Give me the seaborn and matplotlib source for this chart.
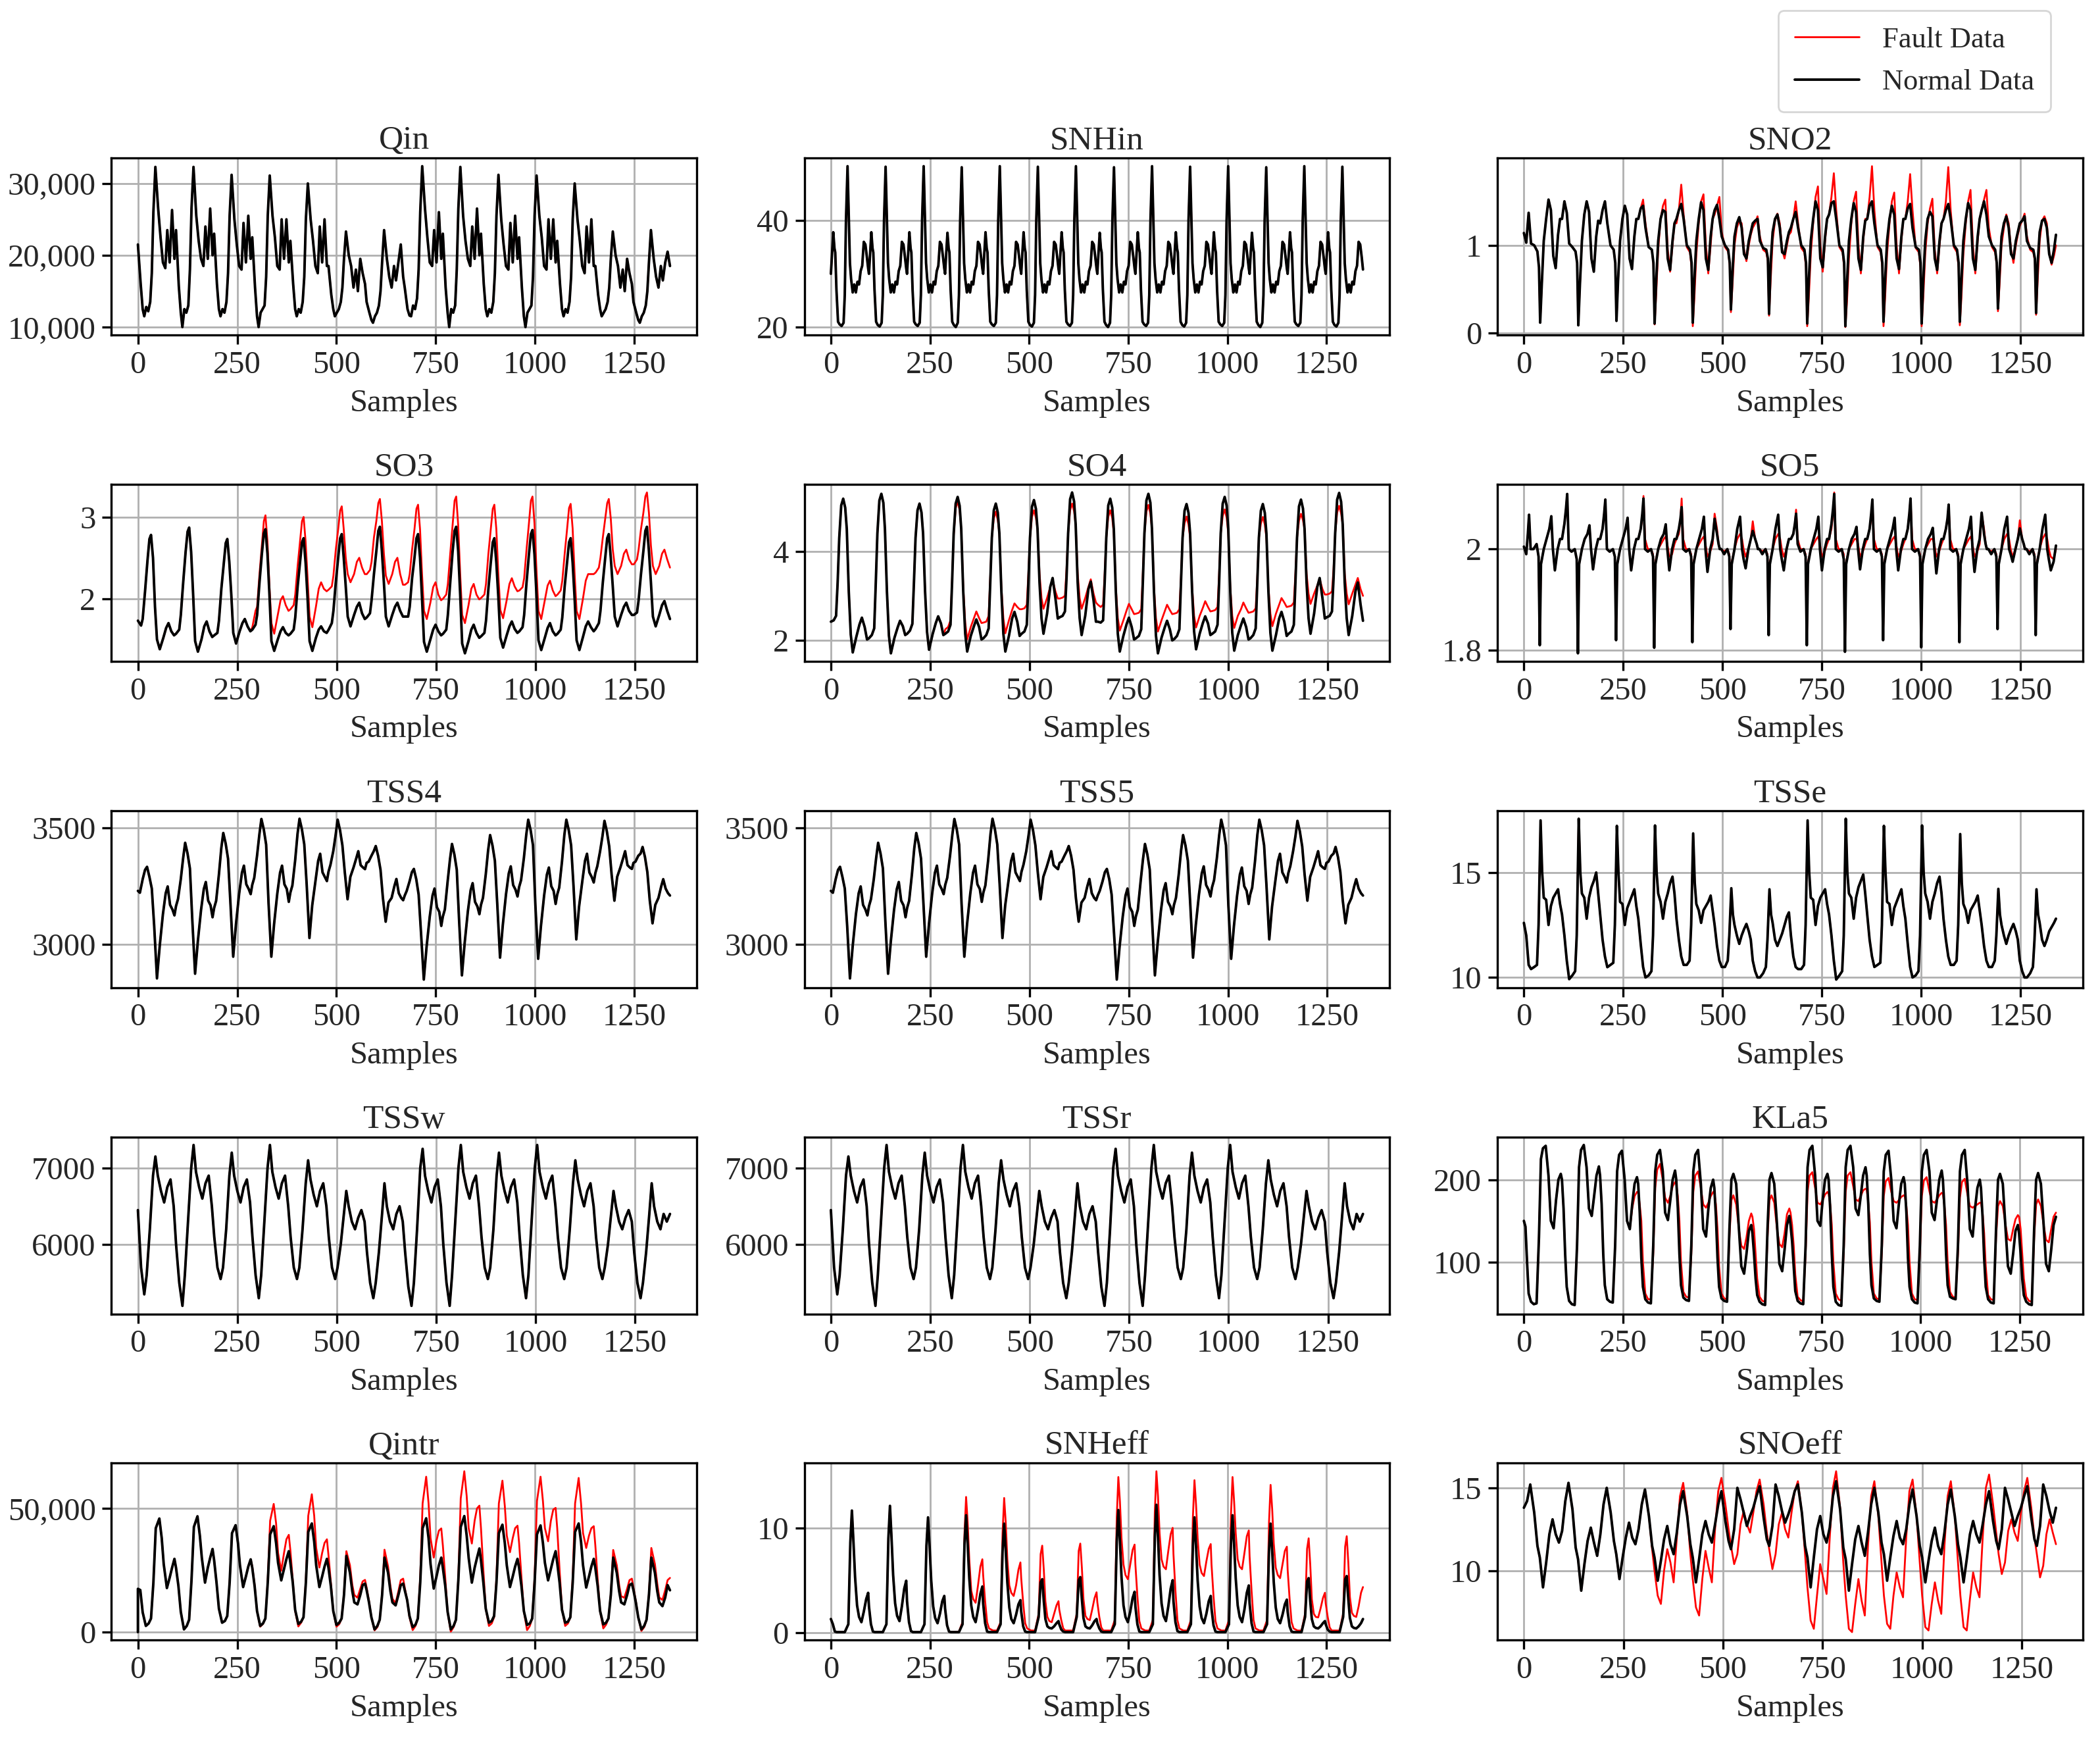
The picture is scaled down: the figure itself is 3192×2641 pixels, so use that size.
import seaborn as sns
import matplotlib.pyplot as plt
from matplotlib.lines import Line2D
from matplotlib.ticker import FuncFormatter

DAY = 96  # 15-min samples per day, 14 days shown

# ---------------- data (values read per day at the listed sample offsets) ----------------
qin_ph = [0, 7, 12, 16, 21, 26, 31, 35, 39, 44, 51, 57, 63, 69, 74, 80, 86, 92]
qin_n = [
    [21500, 16000, 12500, 11500, 12800, 12200, 13500, 17500, 26000, 32300, 26500, 22500, 19000, 18200, 23500, 19000, 26300, 19500],
    [23500, 15700, 12000, 10000, 12500, 12000, 13000, 18000, 26500, 32300, 25500, 22000, 19500, 18500, 24000, 19500, 26500, 20000],
    [23000, 16000, 12500, 11500, 12500, 12000, 13500, 17500, 25500, 31200, 25000, 21500, 18500, 18000, 24500, 19000, 25500, 19500],
    [22500, 15500, 11500, 10000, 12000, 12500, 13000, 17000, 25500, 31100, 25500, 22500, 18500, 18000, 25000, 19500, 25000, 19000],
    [22000, 16000, 12500, 11500, 12500, 12000, 13500, 17000, 25000, 30000, 25000, 22000, 18500, 17500, 24000, 19000, 25000, 18500],
    [18500, 14500, 12500, 11500, 12000, 12500, 13500, 15500, 19500, 23300, 20000, 18500, 15500, 18000, 15000, 19500, 17500, 16000],
    [13500, 12000, 11000, 10600, 11500, 12000, 13000, 15000, 19000, 23500, 19500, 17000, 15500, 18500, 16500, 19000, 21500, 17000],
    [15500, 12500, 11600, 11500, 13000, 12500, 14000, 18000, 26000, 32400, 26500, 22500, 19000, 18500, 23500, 19000, 26000, 19500],
    [23000, 15500, 12000, 10000, 12500, 12000, 13000, 18000, 26500, 32300, 25500, 22000, 19500, 18500, 24000, 19500, 26500, 20000],
    [23000, 16000, 12500, 11500, 12500, 12000, 13500, 17500, 25500, 31200, 25000, 21500, 18500, 18000, 24500, 19000, 25500, 19500],
    [22500, 15500, 11500, 10000, 12000, 12500, 13000, 17000, 25500, 31100, 25500, 22500, 18500, 18000, 25000, 19500, 25000, 19000],
    [22000, 16000, 12500, 11500, 12500, 12000, 13500, 17000, 25000, 30000, 25000, 22000, 18500, 17500, 24000, 19000, 25000, 18500],
    [18500, 14500, 12500, 11500, 12000, 12500, 13500, 15500, 19500, 23300, 20000, 18500, 15500, 18000, 15000, 19500, 17500, 16000],
    [13500, 12000, 11000, 10600, 11500, 12000, 13000, 15000, 19000, 23500, 19500, 17000, 15500, 18500, 16500, 19000, 20500, 18500],
]

snhin_ph = [0, 3, 6, 9, 11, 14, 18, 22, 27, 32, 35, 38, 42, 45, 48, 51, 55, 59, 63, 67, 71, 75, 79, 83, 87, 91, 94]
snhin_n = [
    [30, 34, 37.8, 34.8, 34, 27, 21, 20.5, 20.2, 20.8, 26, 40, 50.2, 41, 32, 29, 26.5, 28, 26.5, 28.5, 28, 30.5, 31.5, 36, 35.5, 33, 31],
    [30, 34, 37.8, 34.8, 34, 27, 21, 20.4, 20.1, 20.8, 26, 40, 50.1, 41, 32, 29, 26.5, 28, 26.5, 28.5, 28, 30.5, 31.5, 36, 35.5, 33, 31],
    [30, 34, 37.8, 34.8, 34, 27, 21, 20.5, 20.2, 20.8, 26, 40, 50.2, 41, 32, 29, 26.5, 28, 26.5, 28.5, 28, 30.5, 31.5, 36, 35.5, 33, 31],
    [30, 34, 37.7, 34.8, 34, 27, 21, 20.4, 20.0, 20.8, 26, 40, 50.0, 41, 32, 29, 26.5, 28, 26.5, 28.5, 28, 30.5, 31.5, 36, 35.5, 33, 31],
    [30, 34, 37.8, 34.8, 34, 27, 21, 20.5, 20.2, 20.8, 26, 40, 50.2, 41, 32, 29, 26.5, 28, 26.5, 28.5, 28, 30.5, 31.5, 36, 35.5, 33, 31],
    [30, 34, 37.8, 34.8, 34, 27, 21, 20.4, 20.1, 20.8, 26, 40, 50.1, 41, 32, 29, 26.5, 28, 26.5, 28.5, 28, 30.5, 31.5, 36, 35.5, 33, 31],
    [30, 34, 37.8, 34.8, 34, 27, 21, 20.5, 20.2, 20.8, 26, 40, 50.2, 41, 32, 29, 26.5, 28, 26.5, 28.5, 28, 30.5, 31.5, 36, 35.5, 33, 31],
    [30, 34, 37.7, 34.8, 34, 27, 21, 20.4, 20.0, 20.8, 26, 40, 50.0, 41, 32, 29, 26.5, 28, 26.5, 28.5, 28, 30.5, 31.5, 36, 35.5, 33, 31],
    [30, 34, 37.8, 34.8, 34, 27, 21, 20.5, 20.2, 20.8, 26, 40, 50.2, 41, 32, 29, 26.5, 28, 26.5, 28.5, 28, 30.5, 31.5, 36, 35.5, 33, 31],
    [30, 34, 37.8, 34.8, 34, 27, 21, 20.4, 20.1, 20.8, 26, 40, 50.1, 41, 32, 29, 26.5, 28, 26.5, 28.5, 28, 30.5, 31.5, 36, 35.5, 33, 31],
    [30, 34, 37.8, 34.8, 34, 27, 21, 20.5, 20.2, 20.8, 26, 40, 50.2, 41, 32, 29, 26.5, 28, 26.5, 28.5, 28, 30.5, 31.5, 36, 35.5, 33, 31],
    [30, 34, 37.7, 34.8, 34, 27, 21, 20.4, 20.0, 20.8, 26, 40, 50.0, 41, 32, 29, 26.5, 28, 26.5, 28.5, 28, 30.5, 31.5, 36, 35.5, 33, 31],
    [30, 34, 37.8, 34.8, 34, 27, 21, 20.5, 20.2, 20.8, 26, 40, 50.2, 41, 32, 29, 26.5, 28, 26.5, 28.5, 28, 30.5, 31.5, 36, 35.5, 33, 31],
    [30, 34, 37.8, 34.8, 34, 27, 21, 20.4, 20.1, 20.8, 26, 40, 50.1, 41, 32, 29, 26.5, 28, 26.5, 28.5, 28, 30.5, 31.5, 36, 35.5, 33, 30.8],
]

sno2_ph = [0, 6, 12, 18, 26, 34, 38, 41, 45, 50, 56, 62, 68, 74, 80, 86, 91]
sno2_n = [
    [1.14, 1.03, 1.37, 1.02, 1.00, 0.93, 0.75, 0.12, 0.55, 1.05, 1.30, 1.52, 1.40, 0.88, 0.74, 1.12, 1.30],
    [1.30, 1.50, 1.37, 1.02, 0.98, 0.93, 0.80, 0.09, 0.55, 1.05, 1.35, 1.50, 1.38, 0.85, 0.70, 1.10, 1.28],
    [1.25, 1.40, 1.50, 1.25, 1.00, 0.95, 0.80, 0.14, 0.60, 1.05, 1.30, 1.45, 1.35, 0.85, 0.73, 1.10, 1.30],
    [1.30, 1.42, 1.45, 1.20, 0.98, 0.95, 0.80, 0.11, 0.60, 1.05, 1.30, 1.40, 1.38, 0.85, 0.72, 1.05, 1.25],
    [1.30, 1.40, 1.47, 1.30, 1.00, 0.95, 0.80, 0.12, 0.60, 1.05, 1.30, 1.49, 1.40, 0.85, 0.72, 1.10, 1.30],
    [1.40, 1.46, 1.30, 1.10, 1.00, 0.95, 0.80, 0.27, 0.70, 1.10, 1.25, 1.32, 1.20, 0.90, 0.85, 1.05, 1.15],
    [1.25, 1.28, 1.30, 1.05, 0.97, 0.95, 0.85, 0.22, 0.80, 1.15, 1.30, 1.35, 1.20, 0.92, 0.90, 1.05, 1.15],
    [1.20, 1.30, 1.38, 1.20, 1.00, 0.95, 0.80, 0.11, 0.60, 1.05, 1.30, 1.50, 1.40, 0.85, 0.75, 1.10, 1.30],
    [1.35, 1.48, 1.50, 1.30, 1.00, 0.95, 0.80, 0.08, 0.55, 1.05, 1.30, 1.48, 1.38, 0.85, 0.72, 1.10, 1.28],
    [1.30, 1.45, 1.50, 1.25, 1.00, 0.95, 0.80, 0.13, 0.60, 1.05, 1.30, 1.45, 1.35, 0.85, 0.73, 1.10, 1.30],
    [1.30, 1.42, 1.47, 1.20, 0.98, 0.95, 0.80, 0.11, 0.60, 1.05, 1.30, 1.38, 1.33, 0.85, 0.72, 1.05, 1.25],
    [1.30, 1.40, 1.47, 1.30, 1.00, 0.95, 0.80, 0.13, 0.60, 1.05, 1.30, 1.48, 1.40, 0.85, 0.72, 1.10, 1.30],
    [1.40, 1.50, 1.35, 1.10, 1.00, 0.95, 0.80, 0.28, 0.70, 1.10, 1.25, 1.33, 1.20, 0.90, 0.85, 1.05, 1.15],
    [1.25, 1.28, 1.33, 1.05, 0.97, 0.95, 0.85, 0.23, 0.80, 1.15, 1.28, 1.30, 1.20, 0.90, 0.80, 0.95, 1.12],
]
sno2_f = sno2_n[:3] + [
    [1.30, 1.42, 1.52, 1.25, 0.98, 0.95, 0.78, 0.10, 0.45, 0.95, 1.30, 1.45, 1.52, 0.95, 0.70, 1.00, 1.25],
    [1.25, 1.40, 1.69, 1.35, 0.98, 0.92, 0.75, 0.08, 0.40, 0.90, 1.25, 1.50, 1.58, 1.00, 0.68, 1.00, 1.30],
    [1.35, 1.45, 1.55, 1.15, 0.98, 0.93, 0.78, 0.24, 0.55, 1.00, 1.20, 1.28, 1.25, 0.95, 0.82, 1.00, 1.12],
    [1.20, 1.25, 1.33, 1.10, 0.95, 0.92, 0.82, 0.20, 0.60, 1.05, 1.28, 1.36, 1.25, 0.95, 0.85, 1.00, 1.12],
    [1.15, 1.30, 1.50, 1.25, 0.97, 0.92, 0.75, 0.08, 0.40, 0.90, 1.25, 1.55, 1.67, 1.00, 0.70, 1.05, 1.30],
    [1.35, 1.55, 1.82, 1.40, 0.98, 0.92, 0.75, 0.07, 0.35, 0.85, 1.25, 1.50, 1.61, 1.00, 0.68, 1.05, 1.30],
    [1.30, 1.55, 1.90, 1.40, 0.98, 0.92, 0.75, 0.08, 0.40, 0.90, 1.25, 1.50, 1.60, 1.00, 0.68, 1.05, 1.30],
    [1.30, 1.50, 1.81, 1.40, 0.97, 0.92, 0.75, 0.08, 0.40, 0.90, 1.25, 1.42, 1.53, 0.95, 0.68, 1.00, 1.25],
    [1.30, 1.50, 1.89, 1.40, 0.98, 0.92, 0.75, 0.09, 0.40, 0.90, 1.25, 1.50, 1.63, 1.00, 0.68, 1.05, 1.30],
    [1.40, 1.52, 1.63, 1.20, 0.98, 0.92, 0.78, 0.25, 0.55, 1.00, 1.20, 1.35, 1.25, 0.95, 0.80, 1.00, 1.12],
    [1.22, 1.28, 1.36, 1.10, 0.95, 0.92, 0.82, 0.21, 0.60, 1.05, 1.28, 1.33, 1.25, 0.92, 0.78, 0.88, 1.00],
]

so3_ph = [0, 8, 12, 18, 24, 29, 33, 38, 43, 48, 55, 64, 71, 77, 84, 91]
so3_n = [
    [1.73, 1.67, 1.75, 2.09, 2.46, 2.73, 2.78, 2.50, 1.90, 1.50, 1.38, 1.52, 1.64, 1.70, 1.60, 1.55],
    [1.57, 1.62, 1.80, 2.20, 2.57, 2.82, 2.87, 2.57, 2.05, 1.48, 1.35, 1.50, 1.66, 1.72, 1.60, 1.53],
    [1.55, 1.58, 1.73, 2.12, 2.43, 2.68, 2.73, 2.45, 2.05, 1.58, 1.45, 1.60, 1.70, 1.75, 1.66, 1.60],
    [1.62, 1.68, 1.80, 2.20, 2.55, 2.80, 2.85, 2.55, 2.05, 1.48, 1.36, 1.50, 1.60, 1.65, 1.58, 1.55],
    [1.57, 1.62, 1.77, 2.15, 2.44, 2.69, 2.74, 2.44, 2.00, 1.48, 1.36, 1.52, 1.62, 1.66, 1.60, 1.58],
    [1.62, 1.70, 1.85, 2.20, 2.50, 2.74, 2.79, 2.50, 2.15, 1.78, 1.66, 1.80, 1.90, 1.95, 1.82, 1.75],
    [1.77, 1.82, 1.98, 2.30, 2.58, 2.83, 2.88, 2.58, 2.20, 1.78, 1.66, 1.80, 1.90, 1.95, 1.85, 1.78],
    [1.78, 1.78, 1.90, 2.25, 2.50, 2.74, 2.79, 2.50, 2.00, 1.47, 1.35, 1.50, 1.62, 1.68, 1.60, 1.55],
    [1.57, 1.62, 1.80, 2.20, 2.58, 2.83, 2.88, 2.58, 2.05, 1.45, 1.33, 1.48, 1.62, 1.68, 1.58, 1.52],
    [1.54, 1.58, 1.73, 2.12, 2.44, 2.69, 2.74, 2.44, 2.02, 1.52, 1.40, 1.55, 1.66, 1.72, 1.63, 1.58],
    [1.60, 1.65, 1.80, 2.20, 2.54, 2.79, 2.84, 2.54, 2.05, 1.49, 1.37, 1.52, 1.64, 1.70, 1.60, 1.55],
    [1.57, 1.62, 1.77, 2.15, 2.44, 2.69, 2.74, 2.44, 2.00, 1.49, 1.37, 1.53, 1.66, 1.72, 1.65, 1.60],
    [1.63, 1.70, 1.85, 2.20, 2.50, 2.74, 2.79, 2.50, 2.15, 1.78, 1.66, 1.80, 1.90, 1.95, 1.85, 1.80],
    [1.80, 1.83, 1.98, 2.30, 2.58, 2.83, 2.88, 2.58, 2.20, 1.78, 1.66, 1.80, 1.92, 1.97, 1.85, 1.75],
]
so3_f = so3_n[:3] + [
    [1.65, 1.85, 1.90, 2.30, 2.65, 2.95, 3.02, 2.70, 2.15, 1.70, 1.57, 1.80, 1.98, 2.03, 1.92, 1.85],
    [1.87, 1.92, 2.05, 2.40, 2.70, 2.95, 3.00, 2.70, 2.25, 1.78, 1.65, 1.90, 2.12, 2.20, 2.12, 2.09],
    [2.11, 2.15, 2.28, 2.60, 2.85, 3.08, 3.13, 2.85, 2.50, 2.30, 2.20, 2.30, 2.45, 2.50, 2.38, 2.30],
    [2.30, 2.35, 2.45, 2.75, 2.95, 3.17, 3.22, 2.95, 2.55, 2.28, 2.18, 2.30, 2.45, 2.50, 2.30, 2.17],
    [2.17, 2.20, 2.30, 2.60, 2.85, 3.10, 3.15, 2.85, 2.30, 1.85, 1.75, 1.95, 2.14, 2.20, 2.05, 1.98],
    [2.00, 2.05, 2.18, 2.55, 2.90, 3.20, 3.25, 2.90, 2.30, 1.80, 1.70, 1.92, 2.12, 2.18, 2.05, 1.99],
    [2.01, 2.05, 2.18, 2.55, 2.85, 3.10, 3.15, 2.85, 2.30, 1.86, 1.76, 1.98, 2.18, 2.25, 2.15, 2.09],
    [2.10, 2.14, 2.25, 2.60, 2.92, 3.20, 3.25, 2.92, 2.35, 1.85, 1.75, 1.98, 2.16, 2.22, 2.10, 2.03],
    [2.05, 2.10, 2.22, 2.55, 2.85, 3.11, 3.16, 2.86, 2.30, 1.85, 1.75, 2.00, 2.22, 2.30, 2.30, 2.30],
    [2.32, 2.38, 2.50, 2.75, 2.98, 3.17, 3.22, 2.98, 2.60, 2.40, 2.30, 2.40, 2.55, 2.60, 2.48, 2.42],
    [2.42, 2.48, 2.60, 2.85, 3.05, 3.25, 3.30, 3.05, 2.65, 2.40, 2.30, 2.40, 2.55, 2.60, 2.48, 2.38],
]

so4_ph = [0, 7, 13, 17, 21, 26, 31, 36, 40, 45, 50, 55, 64, 72, 78, 85, 91]
so4_n = [
    [2.42, 2.45, 2.55, 3.3, 4.3, 5.03, 5.18, 4.98, 4.5, 3.1, 2.13, 1.73, 2.08, 2.36, 2.51, 2.30, 2.02],
    [2.05, 2.12, 2.27, 3.3, 4.4, 5.14, 5.29, 5.09, 4.5, 3.1, 2.11, 1.71, 2.06, 2.29, 2.44, 2.32, 2.12],
    [2.15, 2.22, 2.37, 3.3, 4.3, 4.92, 5.07, 4.87, 4.4, 3.1, 2.19, 1.79, 2.14, 2.39, 2.54, 2.38, 2.12],
    [2.15, 2.20, 2.35, 3.3, 4.4, 5.07, 5.22, 5.02, 4.5, 3.1, 2.15, 1.75, 2.10, 2.32, 2.47, 2.30, 2.02],
    [2.05, 2.12, 2.27, 3.3, 4.3, 4.92, 5.07, 4.87, 4.4, 3.1, 2.15, 1.75, 2.10, 2.49, 2.64, 2.42, 2.10],
    [2.15, 2.20, 2.35, 3.3, 4.3, 5.00, 5.15, 4.95, 4.5, 3.3, 2.50, 2.15, 2.60, 3.20, 3.40, 2.95, 2.49],
    [2.52, 2.55, 2.65, 3.4, 4.4, 5.17, 5.32, 5.12, 4.6, 3.3, 2.50, 2.12, 2.55, 3.15, 3.32, 2.90, 2.42],
    [2.42, 2.40, 2.45, 3.3, 4.3, 5.03, 5.18, 4.98, 4.5, 3.1, 2.15, 1.75, 2.10, 2.36, 2.51, 2.30, 2.02],
    [2.05, 2.10, 2.25, 3.3, 4.4, 5.14, 5.29, 5.09, 4.5, 3.1, 2.11, 1.71, 2.06, 2.29, 2.44, 2.25, 2.00],
    [2.03, 2.10, 2.25, 3.3, 4.3, 4.91, 5.06, 4.86, 4.4, 3.1, 2.20, 1.80, 2.15, 2.39, 2.54, 2.38, 2.12],
    [2.15, 2.20, 2.35, 3.3, 4.4, 5.07, 5.22, 5.02, 4.5, 3.1, 2.17, 1.77, 2.12, 2.34, 2.49, 2.30, 2.02],
    [2.05, 2.12, 2.27, 3.3, 4.3, 4.91, 5.06, 4.86, 4.4, 3.1, 2.17, 1.77, 2.12, 2.49, 2.64, 2.42, 2.10],
    [2.15, 2.20, 2.35, 3.3, 4.3, 5.01, 5.16, 4.96, 4.5, 3.3, 2.50, 2.15, 2.60, 3.20, 3.40, 2.95, 2.49],
    [2.52, 2.55, 2.65, 3.4, 4.4, 5.16, 5.31, 5.11, 4.6, 3.3, 2.50, 2.12, 2.55, 3.10, 3.30, 2.80, 2.44],
]
so4_f = so4_n[:3] + [
    [2.25, 2.30, 2.45, 3.35, 4.35, 4.97, 5.12, 4.92, 4.5, 3.2, 2.40, 2.02, 2.30, 2.50, 2.65, 2.50, 2.39],
    [2.40, 2.42, 2.55, 3.40, 4.30, 4.74, 4.89, 4.70, 4.4, 3.2, 2.50, 2.16, 2.45, 2.68, 2.83, 2.75, 2.70],
    [2.70, 2.72, 2.80, 3.50, 4.30, 4.77, 4.92, 4.75, 4.5, 3.5, 2.95, 2.71, 2.95, 3.20, 3.36, 3.10, 2.94],
    [2.94, 2.96, 3.00, 3.60, 4.40, 4.92, 5.07, 4.90, 4.6, 3.5, 2.95, 2.71, 2.95, 3.20, 3.37, 3.05, 2.85],
    [2.80, 2.75, 2.80, 3.50, 4.30, 4.77, 4.92, 4.75, 4.4, 3.2, 2.50, 2.22, 2.45, 2.67, 2.82, 2.70, 2.59],
    [2.60, 2.62, 2.70, 3.50, 4.40, 4.89, 5.04, 4.85, 4.5, 3.2, 2.50, 2.20, 2.45, 2.65, 2.80, 2.68, 2.59],
    [2.60, 2.62, 2.70, 3.40, 4.30, 4.63, 4.78, 4.60, 4.3, 3.2, 2.55, 2.29, 2.55, 2.73, 2.88, 2.75, 2.65],
    [2.66, 2.68, 2.75, 3.50, 4.40, 4.79, 4.94, 4.75, 4.4, 3.2, 2.55, 2.28, 2.55, 2.70, 2.85, 2.72, 2.62],
    [2.63, 2.65, 2.72, 3.40, 4.30, 4.62, 4.77, 4.60, 4.3, 3.2, 2.60, 2.32, 2.60, 2.80, 2.95, 2.85, 2.75],
    [2.76, 2.78, 2.85, 3.50, 4.30, 4.69, 4.84, 4.70, 4.5, 3.5, 3.05, 2.82, 3.05, 3.23, 3.38, 3.15, 3.03],
    [3.03, 3.05, 3.10, 3.60, 4.40, 4.87, 5.02, 4.85, 4.6, 3.5, 3.05, 2.81, 3.05, 3.25, 3.40, 3.15, 3.00],
]

so5_ph = [0, 6, 10, 13, 17, 24, 32, 37, 40, 43, 50, 57, 64, 69, 73, 78, 85, 91]
so5_n = [
    [2.005, 1.99, 2.03, 2.068, 2.0, 2.0, 2.01, 1.985, 1.81, 1.97, 2.0, 2.02, 2.04, 2.065, 2.0, 1.958, 2.0, 2.02],
    [2.02, 2.05, 2.08, 2.109, 2.0, 1.995, 2.0, 1.98, 1.794, 1.97, 2.0, 2.02, 2.03, 2.047, 2.0, 1.96, 2.0, 2.02],
    [2.02, 2.04, 2.07, 2.098, 2.0, 1.995, 2.0, 1.985, 1.82, 1.97, 2.0, 2.02, 2.04, 2.062, 2.0, 1.958, 2.0, 2.02],
    [2.02, 2.04, 2.07, 2.10, 2.0, 1.995, 2.0, 1.985, 1.805, 1.97, 2.0, 2.02, 2.03, 2.049, 2.0, 1.958, 2.0, 2.02],
    [2.02, 2.04, 2.06, 2.083, 2.0, 1.995, 2.0, 1.985, 1.816, 1.97, 2.0, 2.02, 2.04, 2.064, 2.0, 1.955, 2.0, 2.02],
    [2.06, 2.03, 2.01, 2.0, 2.0, 1.99, 2.0, 1.985, 1.842, 1.97, 2.0, 2.04, 2.064, 2.0, 1.98, 1.962, 2.0, 2.02],
    [2.036, 2.02, 2.01, 2.0, 2.0, 1.99, 2.0, 1.985, 1.83, 1.97, 2.0, 2.04, 2.068, 2.0, 1.98, 1.958, 2.0, 2.02],
    [2.02, 2.03, 2.05, 2.07, 2.01, 1.995, 2.0, 1.985, 1.81, 1.97, 2.0, 2.02, 2.04, 2.064, 2.0, 1.958, 2.0, 2.02],
    [2.02, 2.05, 2.08, 2.109, 2.0, 1.995, 2.0, 1.98, 1.797, 1.97, 2.0, 2.02, 2.03, 2.044, 2.0, 1.96, 2.0, 2.02],
    [2.02, 2.04, 2.07, 2.098, 2.0, 1.995, 2.0, 1.985, 1.82, 1.97, 2.0, 2.02, 2.04, 2.062, 2.0, 1.958, 2.0, 2.02],
    [2.02, 2.04, 2.07, 2.10, 2.0, 1.995, 2.0, 1.985, 1.806, 1.97, 2.0, 2.02, 2.03, 2.042, 2.0, 1.952, 2.0, 2.02],
    [2.02, 2.04, 2.06, 2.088, 2.0, 1.995, 2.0, 1.985, 1.816, 1.97, 2.0, 2.02, 2.04, 2.064, 2.0, 1.955, 2.0, 2.02],
    [2.072, 2.03, 2.01, 2.0, 2.0, 1.99, 2.0, 1.985, 1.842, 1.97, 2.0, 2.04, 2.064, 2.0, 1.99, 1.975, 2.0, 2.02],
    [2.041, 2.02, 2.01, 2.0, 2.0, 1.99, 2.0, 1.985, 1.83, 1.97, 2.0, 2.04, 2.068, 2.0, 1.98, 1.958, 1.975, 2.007],
]
so5_f = so5_n[:3] + [
    [2.02, 2.04, 2.06, 2.105, 2.02, 2.0, 2.0, 1.99, 1.805, 1.975, 2.0, 2.01, 2.02, 2.025, 2.01, 1.985, 1.99, 2.01],
    [2.02, 2.03, 2.06, 2.10, 2.02, 2.0, 2.0, 1.99, 1.816, 1.975, 2.0, 2.01, 2.02, 2.025, 2.01, 1.985, 1.995, 2.01],
    [2.07, 2.04, 2.01, 2.0, 2.0, 1.995, 2.0, 1.99, 1.842, 1.975, 2.0, 2.02, 2.03, 2.02, 2.0, 1.985, 2.0, 2.02],
    [2.055, 2.02, 2.01, 2.0, 2.0, 1.995, 2.0, 1.99, 1.83, 1.975, 2.0, 2.02, 2.03, 2.02, 2.0, 1.985, 2.0, 2.02],
    [2.02, 2.03, 2.05, 2.078, 2.02, 2.0, 2.0, 1.99, 1.81, 1.975, 2.0, 2.01, 2.02, 2.025, 2.01, 1.985, 1.995, 2.01],
    [2.02, 2.04, 2.07, 2.112, 2.02, 2.0, 2.0, 1.99, 1.797, 1.975, 2.0, 2.01, 2.02, 2.02, 2.01, 1.985, 1.995, 2.01],
    [2.02, 2.04, 2.06, 2.09, 2.02, 2.0, 2.0, 1.99, 1.82, 1.975, 2.0, 2.01, 2.02, 2.025, 2.01, 1.985, 1.995, 2.01],
    [2.02, 2.04, 2.07, 2.10, 2.02, 2.0, 2.0, 1.99, 1.806, 1.975, 2.0, 2.01, 2.02, 2.02, 2.01, 1.985, 1.995, 2.01],
    [2.02, 2.04, 2.06, 2.085, 2.02, 2.0, 2.0, 1.99, 1.816, 1.975, 2.0, 2.01, 2.02, 2.025, 2.01, 1.985, 1.995, 2.01],
    [2.07, 2.04, 2.01, 2.0, 2.0, 1.995, 2.0, 1.99, 1.842, 1.975, 2.0, 2.02, 2.03, 2.02, 2.0, 1.985, 2.0, 2.02],
    [2.057, 2.02, 2.01, 2.0, 2.0, 1.995, 2.0, 1.99, 1.83, 1.975, 2.0, 2.02, 2.03, 2.02, 2.0, 1.985, 1.98, 2.0],
]

tss4_ph = [0, 5, 12, 18, 23, 29, 35, 41, 48, 55, 63, 70, 75, 81, 87, 92]
tss4_n = [
    [3230, 3222, 3280, 3320, 3333, 3290, 3240, 3080, 2855, 2995, 3130, 3220, 3249, 3170, 3150, 3125],
    [3165, 3195, 3280, 3371, 3436, 3390, 3326, 3105, 2875, 3015, 3148, 3238, 3268, 3188, 3168, 3117],
    [3157, 3187, 3300, 3413, 3478, 3433, 3368, 3178, 2948, 3088, 3218, 3308, 3338, 3258, 3238, 3216],
    [3256, 3286, 3380, 3473, 3538, 3493, 3428, 3178, 2948, 3088, 3218, 3308, 3338, 3258, 3238, 3183],
    [3223, 3253, 3360, 3474, 3539, 3494, 3429, 3258, 3028, 3168, 3269, 3359, 3389, 3309, 3289, 3272],
    [3312, 3342, 3400, 3470, 3535, 3490, 3425, 3310, 3194, 3290, 3330, 3370, 3400, 3340, 3330, 3323],
    [3350, 3355, 3380, 3400, 3422, 3380, 3320, 3200, 3098, 3180, 3200, 3251, 3281, 3220, 3200, 3190],
    [3210, 3230, 3270, 3310, 3324, 3280, 3214, 3050, 2850, 2990, 3120, 3210, 3240, 3160, 3140, 3080],
    [3120, 3150, 3270, 3366, 3431, 3386, 3321, 3100, 2868, 3008, 3143, 3233, 3263, 3183, 3163, 3130],
    [3170, 3200, 3300, 3404, 3469, 3424, 3359, 3174, 2944, 3084, 3215, 3305, 3335, 3255, 3235, 3206],
    [3246, 3276, 3370, 3470, 3535, 3490, 3425, 3169, 2939, 3079, 3210, 3300, 3330, 3250, 3230, 3174],
    [3214, 3244, 3355, 3470, 3535, 3490, 3425, 3252, 3022, 3162, 3269, 3359, 3389, 3309, 3289, 3266],
    [3306, 3336, 3400, 3465, 3530, 3485, 3420, 3300, 3188, 3290, 3330, 3370, 3400, 3340, 3330, 3324],
    [3350, 3355, 3380, 3390, 3418, 3375, 3310, 3190, 3091, 3170, 3200, 3250, 3280, 3240, 3220, 3210],
]
# TSS5 follows TSS4 almost exactly in the picture
tss5_n = tss4_n

tsse_ph = [0, 6, 12, 18, 26, 33, 37, 42, 46, 50, 56, 62, 68, 74, 80, 86, 91]
tsse_n = [
    [12.6, 12.0, 10.6, 10.4, 10.5, 10.6, 12.5, 17.48, 15.0, 13.8, 13.7, 12.5, 13.4, 13.8, 14.0, 14.2, 13.5],
    [13.0, 12.0, 10.8, 9.92, 10.1, 10.3, 12.0, 17.56, 15.0, 14.0, 13.8, 12.8, 13.8, 14.3, 14.6, 15.0, 14.0],
    [13.0, 11.8, 11.0, 10.49, 10.6, 10.7, 12.5, 17.22, 15.0, 13.6, 13.5, 12.5, 13.3, 13.6, 13.9, 14.2, 13.4],
    [12.8, 11.6, 10.5, 10.0, 10.1, 10.3, 12.0, 17.24, 15.0, 14.0, 13.6, 12.8, 13.6, 14.0, 14.5, 14.8, 14.0],
    [12.8, 11.8, 11.0, 10.6, 10.6, 10.8, 12.5, 16.86, 14.5, 13.5, 13.2, 12.6, 13.2, 13.4, 13.6, 13.9, 13.2],
    [12.5, 11.5, 10.8, 10.5, 10.5, 10.8, 12.0, 14.25, 13.0, 12.5, 12.0, 11.6, 12.0, 12.3, 12.55, 12.2, 11.8],
    [10.8, 10.3, 10.0, 10.0, 10.2, 10.5, 11.8, 14.2, 13.0, 12.6, 11.8, 11.5, 11.8, 12.1, 12.5, 12.9, 13.1],
    [12.0, 11.0, 10.5, 10.4, 10.4, 10.6, 12.5, 17.48, 15.0, 13.8, 13.7, 12.5, 13.4, 13.8, 14.0, 14.2, 13.5],
    [13.0, 12.0, 10.8, 9.9, 10.1, 10.3, 12.0, 17.56, 15.0, 14.0, 13.8, 12.8, 13.8, 14.3, 14.6, 14.9, 14.0],
    [13.0, 11.8, 11.0, 10.5, 10.6, 10.7, 12.5, 17.22, 15.0, 13.6, 13.5, 12.5, 13.3, 13.6, 13.9, 14.2, 13.4],
    [12.8, 11.6, 10.5, 10.0, 10.1, 10.3, 12.0, 17.24, 15.0, 14.0, 13.6, 12.8, 13.6, 14.0, 14.5, 14.8, 14.0],
    [12.8, 11.8, 11.0, 10.6, 10.6, 10.8, 12.5, 16.83, 14.5, 13.5, 13.2, 12.6, 13.2, 13.4, 13.6, 13.9, 13.2],
    [12.5, 11.5, 10.8, 10.5, 10.5, 10.8, 12.0, 14.22, 13.0, 12.5, 12.0, 11.6, 12.0, 12.3, 12.55, 12.2, 11.8],
    [10.8, 10.3, 10.0, 10.0, 10.2, 10.5, 11.8, 14.2, 13.0, 12.6, 11.8, 11.5, 11.8, 12.2, 12.4, 12.6, 12.8],
]

tssw_ph = [0, 8, 16, 22, 30, 38, 44, 50, 58, 66, 74, 82, 90]
tssw_n = [
    [6450, 5700, 5350, 5600, 6200, 6900, 7150, 6900, 6700, 6550, 6750, 6850, 6500],
    [6000, 5500, 5200, 5600, 6300, 7000, 7300, 6950, 6750, 6600, 6800, 6900, 6500],
    [6100, 5700, 5550, 5700, 6200, 6900, 7200, 6900, 6700, 6550, 6750, 6850, 6550],
    [6100, 5600, 5300, 5600, 6300, 7000, 7300, 6950, 6750, 6600, 6800, 6900, 6500],
    [6100, 5700, 5550, 5700, 6200, 6800, 7100, 6850, 6650, 6500, 6700, 6800, 6500],
    [6100, 5700, 5550, 5700, 6000, 6400, 6700, 6500, 6300, 6200, 6350, 6450, 6300],
    [5900, 5500, 5300, 5500, 5900, 6400, 6800, 6500, 6300, 6200, 6400, 6500, 6300],
    [5900, 5450, 5200, 5500, 6200, 7000, 7250, 6900, 6700, 6550, 6750, 6850, 6500],
    [6000, 5500, 5200, 5600, 6300, 7000, 7300, 6950, 6750, 6600, 6800, 6900, 6500],
    [6100, 5700, 5550, 5700, 6200, 6900, 7200, 6900, 6700, 6550, 6750, 6850, 6550],
    [6100, 5600, 5300, 5600, 6300, 7000, 7300, 6950, 6750, 6600, 6800, 6900, 6500],
    [6100, 5700, 5550, 5700, 6200, 6800, 7100, 6850, 6650, 6500, 6700, 6800, 6500],
    [6100, 5700, 5550, 5700, 6000, 6400, 6700, 6500, 6300, 6200, 6350, 6450, 6300],
    [5900, 5500, 5300, 5500, 5900, 6400, 6800, 6500, 6300, 6200, 6400, 6300, 6400],
]
tssr_n = tssw_n

kla5_ph = [0, 4, 8, 12, 18, 25, 32, 38, 43, 48, 55, 62, 68, 75, 81, 87, 93]
kla5_n = [
    [150, 143, 100, 62, 52, 49, 50, 130, 225, 238, 241, 205, 150, 141, 175, 200, 207],
    [200, 165, 110, 70, 53, 49, 48, 120, 215, 236, 242, 215, 165, 156, 180, 205, 216],
    [205, 170, 110, 72, 55, 52, 51, 120, 210, 230, 235, 200, 150, 140, 170, 195, 203],
    [195, 160, 105, 70, 55, 51, 50, 120, 210, 230, 236, 210, 160, 151, 175, 200, 211],
    [200, 165, 110, 72, 57, 54, 53, 120, 210, 230, 236, 195, 140, 131, 165, 190, 200],
    [190, 155, 105, 70, 56, 53, 52, 140, 200, 207, 195, 140, 95, 86, 110, 138, 145],
    [135, 110, 80, 60, 52, 49, 48, 140, 200, 208, 195, 145, 98, 89, 115, 145, 156],
    [145, 125, 95, 65, 53, 50, 49, 120, 215, 236, 241, 205, 150, 144, 175, 200, 207],
    [200, 165, 110, 70, 52, 48, 47, 120, 215, 236, 241, 215, 165, 157, 180, 205, 215],
    [205, 170, 110, 72, 56, 53, 52, 120, 210, 230, 235, 200, 150, 141, 170, 195, 203],
    [195, 160, 105, 70, 55, 51, 50, 120, 210, 230, 236, 210, 160, 151, 175, 200, 211],
    [200, 165, 110, 72, 58, 56, 55, 120, 210, 230, 236, 195, 140, 131, 165, 190, 200],
    [190, 155, 105, 70, 55, 51, 50, 140, 200, 207, 195, 140, 95, 86, 110, 138, 145],
    [135, 110, 80, 60, 52, 49, 48, 140, 200, 208, 195, 145, 98, 89, 115, 145, 155],
]
kla5_f = kla5_n[:2] + [
    [205, 170, 110, 72, 55, 52, 51, 120, 210, 230, 235, 200, 150, 140, 165, 180, 185],
    [185, 170, 150, 100, 62, 55, 55, 110, 190, 212, 219, 200, 178, 172, 180, 192, 197],
    [195, 180, 150, 100, 64, 58, 57, 110, 185, 205, 210, 190, 170, 166, 172, 180, 185],
    [185, 170, 140, 95, 62, 56, 55, 130, 175, 181, 170, 140, 120, 116, 130, 150, 159],
    [155, 140, 110, 80, 58, 53, 52, 130, 175, 181, 172, 140, 122, 118, 135, 158, 165],
    [160, 145, 120, 85, 58, 54, 52, 110, 185, 205, 209, 190, 172, 170, 175, 182, 185],
    [183, 170, 145, 100, 62, 55, 53, 110, 185, 205, 209, 192, 176, 174, 180, 187, 189],
    [188, 172, 148, 100, 62, 56, 55, 110, 180, 198, 202, 185, 174, 172, 175, 179, 181],
    [180, 168, 145, 100, 62, 55, 54, 110, 180, 199, 203, 186, 174, 172, 176, 181, 184],
    [183, 168, 145, 100, 64, 58, 57, 110, 178, 197, 201, 182, 168, 166, 168, 170, 172],
    [172, 160, 135, 95, 60, 55, 54, 130, 168, 174, 168, 145, 128, 126, 140, 152, 157],
    [155, 140, 110, 80, 58, 53, 52, 130, 170, 176, 168, 145, 127, 124, 140, 155, 160],
]

qintr_first = 0  # the very first sample is zero
qintr_ph = [0, 6, 12, 20, 27, 33, 39, 45, 54, 60, 65, 73, 80, 86, 92]
qintr_n = [
    [17500, 17000, 8000, 2500, 3500, 5500, 20000, 42000, 45900, 38000, 27500, 17800, 22000, 26000, 29600],
    [26000, 18700, 8200, 1100, 2500, 5000, 21000, 42500, 46800, 39000, 30000, 20000, 26000, 30000, 33600],
    [29000, 20000, 9500, 3800, 4500, 6500, 20000, 40000, 43200, 36000, 27000, 18200, 22500, 26500, 29400],
    [26000, 18500, 8500, 2500, 3500, 5500, 20000, 39500, 42800, 36000, 28000, 20900, 25500, 29500, 32700],
    [28000, 20000, 9000, 3300, 4200, 6000, 20000, 40500, 43900, 36500, 27000, 18200, 22500, 26500, 29600],
    [26000, 18500, 8500, 2900, 3800, 5500, 15000, 30800, 24000, 16500, 12000, 11200, 15000, 19000, 19600],
    [17000, 12000, 6000, 1100, 2500, 5000, 15000, 30100, 24000, 16500, 12000, 10800, 15000, 19000, 19600],
    [17000, 13000, 6500, 2000, 3000, 5500, 20000, 42000, 46000, 38000, 27500, 17600, 22500, 27000, 30100],
    [26000, 18700, 8200, 1100, 2500, 5000, 21000, 42500, 46900, 39000, 30000, 20000, 26000, 30000, 33800],
    [29000, 20000, 9500, 3800, 4500, 6500, 20000, 40000, 43400, 36000, 27000, 18200, 22500, 26500, 29600],
    [26000, 18500, 8500, 2900, 3500, 5500, 20000, 39500, 43100, 36000, 28000, 20900, 25500, 29500, 32700],
    [28000, 20000, 9000, 3800, 4200, 6000, 20000, 40500, 43900, 36500, 27000, 18000, 22500, 26500, 29600],
    [26000, 18500, 8500, 3100, 3800, 5500, 15000, 30100, 24000, 16500, 12000, 11200, 15000, 19000, 19600],
    [17000, 12000, 6000, 1100, 2500, 5000, 15000, 30100, 24000, 16500, 12000, 10500, 14000, 19000, 16900],
]
qintr_f = qintr_n[:3] + [
    [26500, 19000, 8500, 2200, 3300, 5500, 21000, 45000, 51800, 44000, 32000, 24800, 32000, 37500, 39300],
    [33000, 21000, 8500, 2300, 3800, 6000, 21000, 47000, 55700, 47000, 34000, 26100, 32000, 36000, 37500],
    [31000, 20000, 8500, 2200, 3200, 5500, 15500, 32700, 27000, 19000, 15000, 13900, 17500, 20500, 21100],
    [18000, 12500, 6000, 700, 2000, 5000, 15500, 33300, 26500, 18500, 13500, 11700, 16500, 21000, 21600],
    [18000, 13000, 6000, 800, 2500, 5500, 22000, 52000, 62800, 52000, 38000, 30100, 37000, 41000, 41900],
    [35000, 22000, 8000, 200, 2000, 5000, 22000, 54000, 65000, 55000, 42000, 35800, 45000, 50000, 51100],
    [42000, 25000, 9500, 2500, 3500, 6000, 22000, 52000, 61200, 51000, 39000, 32300, 38000, 42000, 43000],
    [36000, 22000, 8500, 800, 2500, 5500, 22000, 53000, 62800, 53000, 42000, 36700, 45000, 49500, 50200],
    [42000, 25000, 9500, 2500, 3500, 6000, 22000, 52000, 62300, 52000, 40000, 34000, 39000, 42000, 42800],
    [35000, 21000, 8500, 1500, 3000, 5500, 15500, 33200, 27000, 19000, 14500, 13900, 17500, 21000, 21600],
    [18000, 12500, 6000, 500, 2000, 5000, 15500, 34000, 27500, 19500, 14000, 13000, 17000, 21000, 21900],
]

snheff_ph = [0, 5, 10, 15, 25, 35, 44, 49, 53, 57, 61, 66, 71, 77, 83, 89, 94]
snheff_n = [
    [1.3, 0.8, 0.1, 0.05, 0.05, 0.05, 0.8, 8.6, 11.65, 8.6, 5.3, 2.6, 1.5, 1.0, 2.0, 3.2, 3.8],
    [2.5, 0.8, 0.1, 0.05, 0.05, 0.05, 0.8, 9.0, 12.1, 9.0, 5.5, 2.8, 1.6, 1.1, 2.5, 4.2, 4.95],
    [3.0, 1.0, 0.15, 0.05, 0.05, 0.05, 0.8, 8.3, 11.0, 8.2, 5.0, 2.5, 1.4, 0.9, 1.8, 3.0, 3.5],
    [2.3, 0.7, 0.1, 0.05, 0.05, 0.05, 0.8, 8.5, 11.2, 8.4, 5.2, 2.6, 1.5, 1.0, 2.2, 3.7, 4.4],
    [2.8, 0.9, 0.1, 0.05, 0.05, 0.05, 0.8, 7.8, 10.4, 7.8, 4.8, 2.4, 1.3, 0.9, 1.7, 2.7, 3.1],
    [2.0, 0.6, 0.1, 0.05, 0.05, 0.05, 1.5, 4.8, 5.1, 3.0, 1.3, 0.6, 0.45, 0.4, 0.6, 0.9, 1.1],
    [0.8, 0.3, 0.1, 0.05, 0.05, 0.05, 1.5, 5.0, 5.3, 3.2, 1.4, 0.6, 0.45, 0.4, 0.7, 1.1, 1.3],
    [0.9, 0.4, 0.1, 0.05, 0.05, 0.05, 0.8, 8.7, 11.7, 8.7, 5.3, 2.6, 1.5, 1.0, 2.0, 3.3, 3.9],
    [2.5, 0.8, 0.1, 0.05, 0.05, 0.05, 0.8, 9.1, 12.2, 9.1, 5.5, 2.8, 1.6, 1.1, 2.5, 4.2, 5.0],
    [3.0, 1.0, 0.15, 0.05, 0.05, 0.05, 0.8, 8.3, 11.0, 8.2, 5.0, 2.5, 1.4, 0.9, 1.8, 3.0, 3.5],
    [2.3, 0.7, 0.1, 0.05, 0.05, 0.05, 0.8, 8.5, 11.2, 8.4, 5.2, 2.6, 1.5, 1.0, 2.2, 3.8, 4.5],
    [2.8, 0.9, 0.1, 0.05, 0.05, 0.05, 0.8, 7.8, 10.4, 7.8, 4.8, 2.4, 1.3, 0.9, 1.7, 2.7, 3.15],
    [2.0, 0.6, 0.1, 0.05, 0.05, 0.05, 1.5, 4.9, 5.2, 3.0, 1.3, 0.6, 0.45, 0.4, 0.6, 0.9, 1.1],
    [0.8, 0.3, 0.1, 0.05, 0.05, 0.05, 1.5, 5.1, 5.4, 3.2, 1.4, 0.6, 0.45, 0.4, 0.6, 0.9, 1.3],
]
snheff_f = snheff_n[:3] + [
    [2.3, 0.7, 0.1, 0.05, 0.05, 0.1, 1.0, 9.5, 12.95, 10.5, 7.0, 4.0, 3.2, 2.85, 4.5, 6.3, 7.0],
    [5.5, 3.0, 1.0, 0.4, 0.2, 0.2, 1.0, 9.5, 12.85, 10.5, 7.0, 4.5, 3.8, 3.5, 4.5, 6.0, 6.7],
    [5.2, 2.8, 0.9, 0.4, 0.2, 0.2, 1.8, 7.5, 8.3, 6.0, 3.0, 1.5, 1.1, 1.0, 1.8, 2.6, 3.0],
    [2.2, 1.2, 0.4, 0.2, 0.2, 0.2, 1.8, 7.8, 8.5, 6.2, 3.2, 1.6, 1.3, 1.2, 2.2, 3.3, 3.85],
    [2.9, 1.5, 0.5, 0.2, 0.2, 0.2, 1.2, 11.0, 14.85, 12.5, 9.0, 6.5, 5.5, 5.1, 6.5, 7.9, 8.4],
    [6.5, 3.5, 1.1, 0.4, 0.2, 0.2, 1.2, 11.5, 15.4, 13.0, 9.5, 7.0, 6.3, 6.05, 7.8, 9.4, 10.0],
    [7.5, 4.0, 1.2, 0.4, 0.2, 0.2, 1.2, 11.0, 14.55, 12.2, 9.0, 6.5, 5.7, 5.4, 6.8, 8.0, 8.45],
    [6.5, 3.5, 1.1, 0.4, 0.2, 0.2, 1.2, 11.2, 14.85, 12.5, 9.5, 7.0, 6.3, 6.05, 7.6, 9.2, 9.75],
    [7.3, 4.0, 1.2, 0.4, 0.2, 0.2, 1.2, 10.5, 14.1, 11.8, 8.5, 6.2, 5.5, 5.2, 6.5, 7.8, 8.2],
    [6.0, 3.2, 1.0, 0.4, 0.2, 0.2, 1.8, 8.0, 9.0, 6.5, 3.2, 1.8, 1.5, 1.45, 2.3, 3.3, 3.8],
    [2.8, 1.5, 0.5, 0.2, 0.2, 0.2, 1.8, 8.2, 9.2, 6.7, 3.4, 1.9, 1.6, 1.5, 2.5, 3.8, 4.35],
]

snoeff_ph = [0, 8, 16, 26, 34, 40, 48, 56, 64, 72, 80, 88]
snoeff_n = [
    [13.8, 14.2, 15.2, 13.5, 11.5, 10.8, 9.0, 10.5, 12.2, 13.1, 12.2, 11.7],
    [12.4, 14.2, 15.3, 13.7, 11.4, 10.7, 8.8, 10.4, 11.8, 12.6, 11.7, 10.9],
    [12.2, 14.0, 15.0, 13.5, 11.8, 11.0, 9.5, 10.8, 12.0, 12.9, 12.0, 11.6],
    [12.5, 14.0, 14.9, 13.3, 11.5, 10.8, 9.4, 10.6, 11.9, 12.7, 11.6, 11.0],
    [12.3, 14.0, 14.8, 13.3, 11.6, 10.8, 9.3, 10.7, 12.2, 13.0, 12.2, 11.7],
    [12.8, 14.0, 14.8, 13.0, 11.8, 11.3, 12.5, 15.0, 14.3, 13.5, 12.7, 13.3],
    [13.8, 14.5, 15.1, 13.2, 11.9, 11.5, 12.7, 15.2, 14.5, 13.6, 12.9, 13.4],
    [14.0, 14.8, 15.2, 13.5, 11.5, 10.8, 9.0, 10.8, 12.5, 13.3, 12.2, 11.7],
    [12.6, 14.5, 15.4, 13.7, 11.4, 10.7, 8.8, 10.4, 11.9, 12.7, 11.7, 10.9],
    [12.3, 14.0, 15.0, 13.5, 11.7, 11.0, 9.4, 10.8, 12.1, 13.0, 12.0, 11.6],
    [12.5, 14.0, 14.9, 13.3, 11.5, 10.8, 9.3, 10.6, 11.8, 12.6, 11.5, 11.0],
    [12.3, 14.0, 14.9, 13.3, 11.6, 10.8, 9.3, 10.7, 12.2, 13.0, 12.2, 11.7],
    [12.8, 14.0, 14.8, 13.0, 11.8, 11.3, 12.5, 15.0, 14.3, 13.5, 12.7, 13.3],
    [13.8, 14.5, 15.1, 13.2, 11.9, 11.5, 12.7, 15.2, 14.5, 13.6, 12.9, 13.8],
]
snoeff_f = snoeff_n[:3] + [
    [12.5, 14.0, 14.9, 13.3, 11.3, 10.0, 8.5, 8.0, 10.0, 11.3, 10.5, 9.3],
    [12.0, 14.5, 15.3, 13.5, 11.0, 9.5, 7.8, 7.3, 9.5, 11.2, 10.2, 9.3],
    [12.5, 14.8, 15.6, 14.0, 12.5, 11.5, 10.4, 11.0, 12.8, 13.6, 12.8, 12.3],
    [13.5, 14.8, 15.5, 14.0, 12.3, 11.3, 10.1, 11.0, 12.8, 13.5, 12.5, 12.0],
    [13.5, 14.8, 15.4, 13.5, 11.0, 9.0, 7.0, 6.5, 8.5, 10.4, 9.5, 8.6],
    [12.0, 15.0, 16.0, 13.8, 10.5, 8.5, 6.5, 6.3, 8.0, 9.5, 8.2, 7.3],
    [11.5, 14.5, 15.4, 13.3, 10.5, 8.5, 6.8, 6.5, 8.5, 9.9, 9.0, 8.4],
    [12.0, 14.8, 15.5, 13.3, 10.5, 8.5, 6.6, 6.4, 8.0, 9.3, 8.2, 7.4],
    [11.5, 14.5, 15.4, 13.3, 10.5, 8.5, 6.6, 6.4, 8.3, 9.9, 9.0, 8.4],
    [12.0, 15.0, 15.8, 14.0, 12.3, 11.0, 9.8, 10.5, 12.4, 13.1, 12.3, 11.8],
    [13.5, 14.8, 15.6, 13.8, 12.0, 11.0, 9.6, 10.3, 12.2, 13.1, 12.3, 11.6],
]

x_ticks = [0, 250, 500, 750, 1000, 1250]

# title, offsets, normal rows, fault rows, y ticks, value at sample 0 (if any)
panels = [
    ("Qin", qin_ph, qin_n, qin_n, [10000, 20000, 30000], None),
    ("SNHin", snhin_ph, snhin_n, snhin_n, [20, 40], None),
    ("SNO2", sno2_ph, sno2_n, sno2_f, [0, 1], None),
    ("SO3", so3_ph, so3_n, so3_f, [2, 3], None),
    ("SO4", so4_ph, so4_n, so4_f, [2, 4], None),
    ("SO5", so5_ph, so5_n, so5_f, [1.8, 2.0], None),
    ("TSS4", tss4_ph, tss4_n, tss4_n, [3000, 3500], None),
    ("TSS5", tss4_ph, tss5_n, tss5_n, [3000, 3500], None),
    ("TSSe", tsse_ph, tsse_n, tsse_n, [10, 15], None),
    ("TSSw", tssw_ph, tssw_n, tssw_n, [6000, 7000], None),
    ("TSSr", tssw_ph, tssr_n, tssr_n, [6000, 7000], None),
    ("KLa5", kla5_ph, kla5_n, kla5_f, [100, 200], None),
    ("Qintr", qintr_ph, qintr_n, qintr_f, [0, 50000], qintr_first),
    ("SNHeff", snheff_ph, snheff_n, snheff_f, [0, 10], None),
    ("SNOeff", snoeff_ph, snoeff_n, snoeff_f, [10, 15], None),
]


def build(ph, rows, first=None):
    xs, ys = [], []
    if first is not None:
        xs.append(0)
        ys.append(first)
    for d, row in enumerate(rows):
        assert len(row) == len(ph)
        for p, v in zip(ph, row):
            xs.append(d * DAY + p)
            ys.append(v)
    return xs, ys


def fmt(v, pos):
    if abs(v) >= 10000:
        return f"{v:,.0f}"
    return f"{v:g}"


sns.set_style("ticks")
plt.rcParams['font.family'] = ['Liberation Serif', 'DejaVu Serif']
plt.rcParams['axes.linewidth'] = 1.2

fig, axes = plt.subplots(5, 3, figsize=(15.96, 13.205), dpi=200)
fig.subplots_adjust(left=0.053, right=0.9917, top=0.909, bottom=0.0563,
                    wspace=0.184, hspace=0.844)

for ax, (title, ph, nrows, frows, yt, first) in zip(axes.flat, panels):
    xf, yf = build(ph, frows, first)
    xn, yn = build(ph, nrows, first)
    sns.lineplot(x=xf, y=yf, ax=ax, color="red", linewidth=1.0,
                 estimator=None, sort=False, legend=False)
    sns.lineplot(x=xn, y=yn, ax=ax, color="black", linewidth=1.4,
                 estimator=None, sort=False, legend=False)
    ax.set_title(title, fontsize=18.5, pad=5)
    ax.set_xlabel("Samples", fontsize=17.5, labelpad=5)
    ax.set_ylabel("")
    ax.set_xticks(x_ticks)
    ax.set_yticks(yt)
    ax.yaxis.set_major_formatter(FuncFormatter(fmt))
    ax.tick_params(labelsize=17.5, length=5, width=1.2, color="black")
    ax.grid(True, color="#b0b0b0", linewidth=1.0)
    for s in ax.spines.values():
        s.set_visible(True)
        s.set_color("black")

handles = [Line2D([], [], color="red", linewidth=1.0),
           Line2D([], [], color="black", linewidth=1.4)]
fig.legend(handles, ["Fault Data", "Normal Data"], loc="upper right",
           bbox_to_anchor=(0.9764, 0.9938), borderaxespad=0, fontsize=16,
           frameon=True, handlelength=2.2, borderpad=0.55, labelspacing=0.55)

fig.savefig("out.png", dpi=200)
